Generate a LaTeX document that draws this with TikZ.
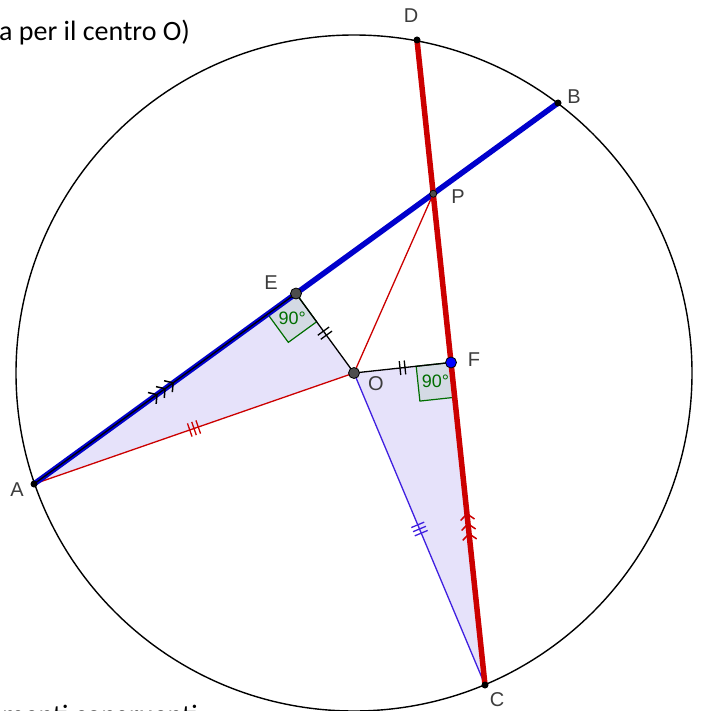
\documentclass[tikz,border=0pt]{standalone}
\usepackage{fontspec}
\setmainfont{Liberation Sans}
\newfontfamily\calibri{Carlito}
\usetikzlibrary{calc,decorations.markings}
\definecolor{gblue}{RGB}{0,0,204}
\definecolor{gred}{RGB}{204,0,0}
\definecolor{gpurple}{RGB}{64,32,224}
\definecolor{gfill}{RGB}{230,226,250}
\definecolor{gsq}{RGB}{212,218,228}
\definecolor{ggreen}{RGB}{0,110,0}
\definecolor{glabel}{RGB}{60,60,60}
\definecolor{gdot}{RGB}{77,77,77}
\tikzset{
  thinline/.style={line width=1.3pt},
  thickline/.style={line width=5.5pt},
  ticktwo/.style={postaction={decorate,decoration={markings,mark=at position 0.5 with {\draw[#1,line width=1.3pt] (-2.5pt,-7pt)--(-2.5pt,7pt) (2.5pt,-7pt)--(2.5pt,7pt);}}}},
  tickthree/.style={postaction={decorate,decoration={markings,mark=at position 0.5 with {\draw[#1,line width=1.3pt] (-4.5pt,-7pt)--(-4.5pt,7pt) (0pt,-7pt)--(0pt,7pt) (4.5pt,-7pt)--(4.5pt,7pt);}}}},
  chevrons/.style={postaction={decorate,decoration={markings,mark=at position 0.5 with {\draw[#1,line width=1.5pt] (-16pt,-7pt)--(-10pt,0pt)--(-16pt,7pt) (-6pt,-7pt)--(0pt,0pt)--(-6pt,7pt) (4pt,-7pt)--(10pt,0pt)--(4pt,7pt);}}}},
  smalldot/.style={circle,fill=black,inner sep=0pt,minimum size=7pt},
  bigdot/.style={circle,draw=black,line width=0.8pt,fill=#1,inner sep=0pt,minimum size=11pt},
  pdot/.style={circle,draw=black,line width=0.7pt,fill=gdot,inner sep=0pt,minimum size=7pt},
  lab/.style={text=glabel,font=\fontsize{20}{22}\selectfont,inner sep=0pt},
  ninety/.style={text=ggreen,font=\fontsize{18}{20}\selectfont,inner sep=0pt},
  sq/.style={draw=ggreen,fill=gsq,line width=1.2pt}
}
\begin{document}
\begin{tikzpicture}[x=1pt,y=-1pt]
\useasboundingbox (0,0) rectangle (702,711);
\fill[white] (0,0) rectangle (702,711);
% points
\coordinate (O) at (354,373);
\coordinate (A) at (34,484);
\coordinate (B) at (558,103);
\coordinate (C) at (485,685);
\coordinate (D) at (417,40);
\coordinate (E) at ($(A)!0.5!(B)$);
\coordinate (F) at ($(D)!0.5!(C)$);
\coordinate (P) at (intersection of A--B and D--C);
% triangles
\fill[gfill] (A) -- (E) -- (O) -- cycle;
\fill[gfill] (O) -- (F) -- (C) -- cycle;
% right angle squares
\coordinate (Ea) at ($(E)!35pt!(A)$);
\coordinate (Eo) at ($(E)!35pt!(O)$);
\coordinate (Es) at ($(Ea)+(Eo)-(E)$);
\coordinate (Fo) at ($(F)!35pt!(O)$);
\coordinate (Fc) at ($(F)!35pt!(C)$);
\coordinate (Fs) at ($(Fo)+(Fc)-(F)$);
\draw[sq] (E) -- (Ea) -- (Es) -- (Eo) -- cycle;
\draw[sq] (F) -- (Fo) -- (Fs) -- (Fc) -- cycle;
\node[ninety] (t90E) at ($(E)!0.5!(Es)$) {90°};
\node[ninety] (t90F) at ($(F)!0.5!(Fs)$) {90°};
% circle
\draw[line width=1.4pt] (O) circle[radius=338];
% thin segments
\draw[thinline,gred,tickthree=gred] (O) -- (A);
\draw[thinline,gpurple,tickthree=gpurple] (O) -- (C);
\draw[thinline,gred] (O) -- (P);
\draw[thinline,black,ticktwo=black] (E) -- (O);
\draw[thinline,black,ticktwo=black] (O) -- (F);
% chords
\draw[thickline,gblue] (A) -- (B);
\draw[thickline,gred,chevrons=gred] (C) -- (F);
\draw[thickline,gred] (F) -- (D);
\draw[thinline,black,chevrons=black] (A) -- (E);
% dots
\node[smalldot] (nA) at (A) {};
\node[smalldot] (nB) at (B) {};
\node[smalldot] (nC) at (C) {};
\node[smalldot] (nD) at (D) {};
\node[pdot] (nP) at (P) {};
\node[bigdot=gdot] (nE) at (E) {};
\node[bigdot=gdot] (nO) at (O) {};
\node[bigdot=blue] (nF) at (F) {};
% labels
\node[lab] (lD) at (411,16) {D};
\node[lab] (lB) at (574,97) {B};
\node[lab] (lP) at (458,197) {P};
\node[lab] (lE) at (271,283) {E};
\node[lab] (lO) at (376,384) {O};
\node[lab] (lF) at (474,360) {F};
\node[lab] (lA) at (17,490) {A};
\node[lab] (lC) at (497,700) {C};
% texts
\node[anchor=base west,inner sep=0pt,font=\calibri\fontsize{28}{30}\selectfont] (ttop) at (-1,41) {a per il centro O)};
\node[anchor=base west,inner sep=0pt,font=\calibri\fontsize{28}{30}\selectfont] (tbot) at (2,724) {menti congruenti};
\end{tikzpicture}
\end{document}
